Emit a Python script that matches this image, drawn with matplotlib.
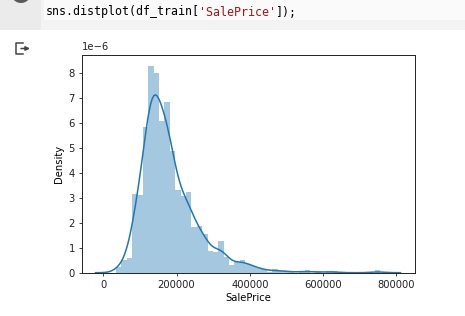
import numpy as np
import matplotlib
matplotlib.use("Agg")
import matplotlib.pyplot as plt
from matplotlib.patches import Rectangle, Circle
from matplotlib.lines import Line2D

# ---- data ----
price_min = 34900
price_max = 755000
n_bins = 49
n_samples = 1460
# histogram densities (x 1e-6) for each of the 49 bins
density_e6 = [0.24, 0.49, 0.59, 3.16, 3.09, 5.83, 8.28, 7.99, 6.05, 6.81,
              4.85, 3.29, 3.05, 3.21, 1.81, 1.88, 1.56, 0.85, 0.81, 1.28,
              0.63, 0.29, 0.43, 0.52, 0.35, 0.25, 0.19, 0.15, 0.03, 0.13,
              0.08, 0.05, 0.05, 0.00, 0.05, 0.09, 0.00, 0.05, 0.00, 0.05,
              0.05, 0.00, 0.00, 0.00, 0.00, 0.00, 0.00, 0.00, 0.09]
xticks = [0, 200000, 400000, 600000, 800000]
yticks = [0, 1, 2, 3, 4, 5, 6, 7, 8]
code_prefix = "sns.distplot(df_train["
code_string = "'SalePrice'"
code_suffix = "]);"
x_label = "SalePrice"
y_label = "Density"

W, H = 465, 316
fig = plt.figure(figsize=(W / 100, H / 100), dpi=100)
fig.patch.set_facecolor("white")

# ---- notebook chrome overlay (pixel coordinates) ----
bg = fig.add_axes([0, 0, 1, 1], zorder=0)
bg.set_xlim(0, W)
bg.set_ylim(H, 0)
bg.axis("off")
bg.add_patch(Rectangle((0, 0), W, 29.5, color="#f3f3f3", lw=0))
bg.add_patch(Rectangle((0, 0), 41, 29.5, color="#ebebeb", lw=0))
bg.add_patch(Rectangle((44, 0), W - 44, 19.5, color="#fafafa", lw=0))
bg.add_patch(Circle((21, -7), 10, color="#5a5a5a", lw=0))
# output icon
bg.add_line(Line2D([23, 16, 16, 23], [43, 43, 54, 54], color="#444444", lw=1.1))
bg.annotate("", xy=(30, 48.5), xytext=(21, 48.5),
            arrowprops=dict(arrowstyle="-|>", color="#444444", lw=1.1,
                            mutation_scale=6, shrinkA=0, shrinkB=0))
# code text
mono = dict(family="DejaVu Sans Mono", fontsize=8.35, va="baseline")
cw = 6.97
bg.text(46, 15.5, code_prefix, color="#000000", **mono)
bg.text(46 + cw * len(code_prefix), 15.5, code_string, color="#a31515", **mono)
bg.text(46 + cw * (len(code_prefix) + len(code_string)), 15.5, code_suffix,
        color="#000000", **mono)

# ---- main chart ----
ax = fig.add_axes([81.7 / W, 1 - 272.7 / H, (415 - 81.7) / W, (272.7 - 55) / H], zorder=1)
ax.set_facecolor("white")

edges = np.linspace(price_min, price_max, n_bins + 1)
dens = np.array(density_e6) * 1e-6
widths = np.diff(edges)
ax.bar(edges[:-1], dens, width=widths, align="edge", color="#1f77b4",
       alpha=0.4, linewidth=0)

# KDE derived from the histogram (Scott bandwidth, with binning correction)
centers = (edges[:-1] + edges[1:]) / 2
wts = dens * widths
wts = wts / wts.sum()
mean = np.sum(wts * centers)
var = np.sum(wts * (centers - mean) ** 2) - widths[0] ** 2 / 12
bw = np.sqrt(var) * n_samples ** (-0.2)
bw_k = np.sqrt(bw ** 2 - widths[0] ** 2 / 12)
grid = np.linspace(price_min - 3 * bw, price_max + 3 * bw, 200)
kde = np.sum(wts[None, :] * np.exp(-0.5 * ((grid[:, None] - centers[None, :]) / bw_k) ** 2),
             axis=1) / (bw_k * np.sqrt(2 * np.pi))
ax.plot(grid, kde, color="#1f77b4", lw=1.1)

ax.set_xticks(xticks)
ax.set_xticklabels([str(v) for v in xticks])
ax.set_yticks([v * 1e-6 for v in yticks])
ax.set_yticklabels([str(v) for v in yticks])
ax.set_ylim(0, 8.71e-6)
ax.set_xlim(-58700, 850700)
ax.tick_params(labelsize=7.2, length=2.5, width=0.6, pad=2.5, colors="#222222")
for s in ax.spines.values():
    s.set_linewidth(0.7)
    s.set_color("#222222")
ax.set_xlabel(x_label, fontsize=7.2, labelpad=2.5)
ax.set_ylabel(y_label, fontsize=7.2, labelpad=3)
fig.text(81.7 / W, 1 - 52 / H, "1e\u22126", fontsize=7.2, ha="left", va="bottom",
         color="#222222")

fig.savefig("out.png", dpi=100)
